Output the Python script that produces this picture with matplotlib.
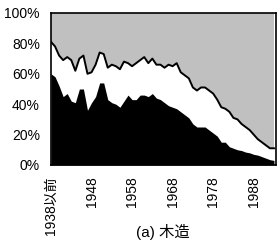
import matplotlib
matplotlib.use("Agg")
import matplotlib.pyplot as plt
import numpy as np

years = list(range(1938, 1994))
# share (%) of the bottom (black) category
black_share = [60, 58, 52, 45, 47, 42, 41, 50, 50, 36,
               41, 45, 54, 54, 43, 41, 40, 38, 42, 46,
               43, 43, 46, 46, 45, 47, 44, 43, 41, 39,
               38, 37, 35, 33, 31, 27, 25, 25, 25, 23,
               21, 19, 15, 15, 12, 11, 10, 9.5, 8.5, 8,
               7, 6.5, 5.5, 4.5, 3.5, 3]
# cumulative share (%) of black + white categories
cum_share = [81, 78, 72, 69, 71, 69, 62, 70, 72, 60,
             61, 66, 74, 73, 64, 66, 65, 63, 68, 67,
             65, 67, 69, 71, 67, 70, 66, 66, 64, 66,
             65, 67, 61, 59, 57, 51, 49, 51, 51, 49,
             47, 43, 38, 37, 35, 31, 30, 27, 25, 23,
             20, 17, 15, 13, 11, 11]
tick_years = [1938, 1948, 1958, 1968, 1978, 1988]
tick_labels = ["1938以前", "1948", "1958", "1968", "1978", "1988"]
y_ticks = [0, 20, 40, 60, 80, 100]
y_labels = ["0%", "20%", "40%", "60%", "80%", "100%"]
caption = "(a) 木造"

fam = ["Liberation Sans Narrow", "Liberation Sans", "Noto Sans CJK JP"]
plt.rcParams["font.family"] = fam

fig = plt.figure(figsize=(2.77, 2.41), dpi=100)
ax = fig.add_axes([51/277, 76/241, 225/277, 152/241])

x = np.array(years)
ax.fill_between(x, 0, black_share, facecolor="black", edgecolor="black", lw=0)
ax.fill_between(x, cum_share, 100, facecolor="#c0c0c0", edgecolor="none", lw=0)
ax.plot(x, cum_share, color="black", lw=1.4)

ax.set_xlim(1938, 1993.5)
ax.set_ylim(0, 100)
ax.set_xticks(tick_years)
ax.set_xticklabels(tick_labels, rotation=90, fontsize=10)
ax.set_yticks(y_ticks)
ax.set_yticklabels(y_labels, fontsize=10)
ax.tick_params(axis="x", length=0, pad=8)
ax.tick_params(axis="y", length=0, pad=8)
for s in ax.spines.values():
    s.set_linewidth(1.2)
    s.set_color("black")

fig.text(163/277, 1/241, caption, fontsize=11, ha="center", va="bottom",
         family=["Liberation Sans", "Noto Sans CJK JP"])

fig.savefig("out.png", dpi=100)
